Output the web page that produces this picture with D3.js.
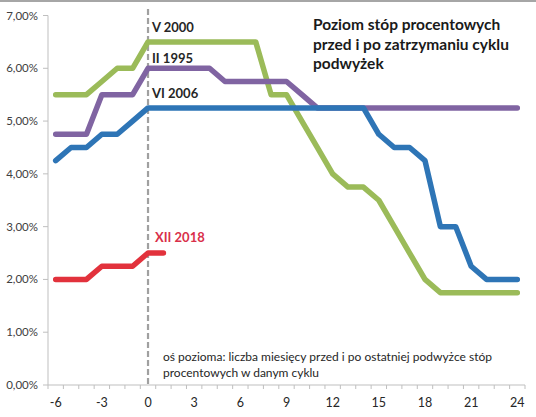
<!DOCTYPE html>
<html><head><meta charset="utf-8">
<script src="https://cdn.jsdelivr.net/npm/d3@7/dist/d3.min.js"></script>
<style>body{margin:0;background:#fff}svg{display:block}</style>
</head><body>
<svg id="c" width="536" height="417"></svg>
<script>
const months = d3.range(-6, 25);
const xTickLabels = [-6,-3,0,3,6,9,12,15,18,21,24];
const yTicks = [0,1,2,3,4,5,6,7];

const v2000 = [5.5,5.5,5.5,5.75,6.0,6.0,6.5,6.5,6.5,6.5,6.5,6.5,6.5,6.5,5.5,5.5,5.0,4.5,4.0,3.75,3.75,3.5,3.0,2.5,2.0,1.75,1.75,1.75,1.75,1.75,1.75];
const ii1995 = [4.75,4.75,4.75,5.5,5.5,5.5,6.0,6.0,6.0,6.0,6.0,5.75,5.75,5.75,5.75,5.75,5.5,5.25,5.25,5.25,5.25,5.25,5.25,5.25,5.25,5.25,5.25,5.25,5.25,5.25,5.25];
const vi2006 = [4.25,4.5,4.5,4.75,4.75,5.0,5.25,5.25,5.25,5.25,5.25,5.25,5.25,5.25,5.25,5.25,5.25,5.25,5.25,5.25,5.25,4.75,4.5,4.5,4.25,3.0,3.0,2.25,2.0,2.0,2.0];
const xii2018 = [2.0,2.0,2.0,2.25,2.25,2.25,2.5,2.5];

const seriesNames = ["V 2000","II 1995","VI 2006","XII 2018"];
const seriesValues = [v2000, ii1995, vi2006, xii2018];
const colors = ["#9bbb59","#8064a2","#2e75b6","#e2323c"];

const titleLines = ["Poziom stóp procentowych","przed i po zatrzymaniu cyklu","podwyżek"];
const noteLines = ["oś pozioma: liczba miesięcy przed i po ostatniej podwyżce stóp","procentowych w danym cyklu"];

const svg = d3.select("#c");
const font = "Lato, 'Open Sans', sans-serif";
const pl = d3.formatLocale({decimal:",",thousands:" ",grouping:[3],currency:["","zł"]});
const fmt = pl.format(".2%");

const x = d3.scaleBand().domain(months).range([48, 525]).padding(0);
const xc = d => x(d) + x.bandwidth()/2;
const y = d3.scaleLinear().domain([0,7]).range([385, 15.5]);

// top frame line
svg.append("line").attr("x1",0).attr("x2",536).attr("y1",1).attr("y2",1)
  .attr("stroke","#a6a6a6").attr("stroke-width",2);

// y axis
svg.append("line").attr("x1",48).attr("x2",48).attr("y1",y(7)).attr("y2",y(0)).attr("stroke","#bfbfbf").attr("stroke-width",1);
yTicks.forEach(t=>{
  svg.append("line").attr("x1",43).attr("x2",48).attr("y1",y(t)).attr("y2",y(t)).attr("stroke","#bfbfbf");
  svg.append("text").attr("x",38).attr("y",y(t)).attr("dy","0.35em").attr("text-anchor","end")
    .attr("font-family",font).attr("font-size",11.5).attr("fill","#404040").text(fmt(t/100));
});

// x axis
svg.append("line").attr("x1",48).attr("x2",525).attr("y1",y(0)).attr("y2",y(0)).attr("stroke","#bfbfbf");
months.concat([25]).forEach(m=>{
  const px = m===25 ? 525 : x(m);
  svg.append("line").attr("x1",px).attr("x2",px).attr("y1",y(0)).attr("y2",y(0)+4).attr("stroke","#bfbfbf");
});
xTickLabels.forEach(m=>{
  svg.append("text").attr("x",xc(m)).attr("y",y(0)+22).attr("text-anchor","middle")
    .attr("font-family",font).attr("font-size",12.5).attr("fill","#262626").text(m);
});

// dashed vertical line at 0
svg.append("line").attr("x1",xc(0)).attr("x2",xc(0)).attr("y1",9).attr("y2",y(0))
  .attr("stroke","#a0a0a0").attr("stroke-width",2.2).attr("stroke-dasharray","6,3");

// lines
const line = d3.line().x((d,i)=>xc(months[i])).y(d=>y(d));
seriesValues.forEach((vals,k)=>{
  svg.append("path").datum(vals).attr("d",line).attr("fill","none")
    .attr("stroke",colors[k]).attr("stroke-width",5.5).attr("stroke-linejoin","round").attr("stroke-linecap","round");
});

// series labels
const labelPos = [[152,27],[152,58],[152,93],[155,237]];
seriesNames.forEach((n,k)=>{
  svg.append("text").attr("x",labelPos[k][0]).attr("y",labelPos[k][1]).attr("dy","0.35em")
    .attr("font-family",font).attr("font-weight","bold").attr("font-size",13)
    .attr("fill", k===3 ? "#d9304a" : "#262626").text(n);
});

// title
titleLines.forEach((t,i)=>{
  svg.append("text").attr("x",313).attr("y",25+i*19.5).attr("dy","0.35em")
    .attr("font-family",font).attr("font-weight","bold").attr("font-size",15.5).attr("fill","#1a1a1a").text(t);
});

// note
noteLines.forEach((t,i)=>{
  svg.append("text").attr("x",163).attr("y",357+i*15.5).attr("dy","0.35em")
    .attr("font-family",font).attr("font-size",12).attr("fill","#262626").text(t);
});
</script>
</body></html>
